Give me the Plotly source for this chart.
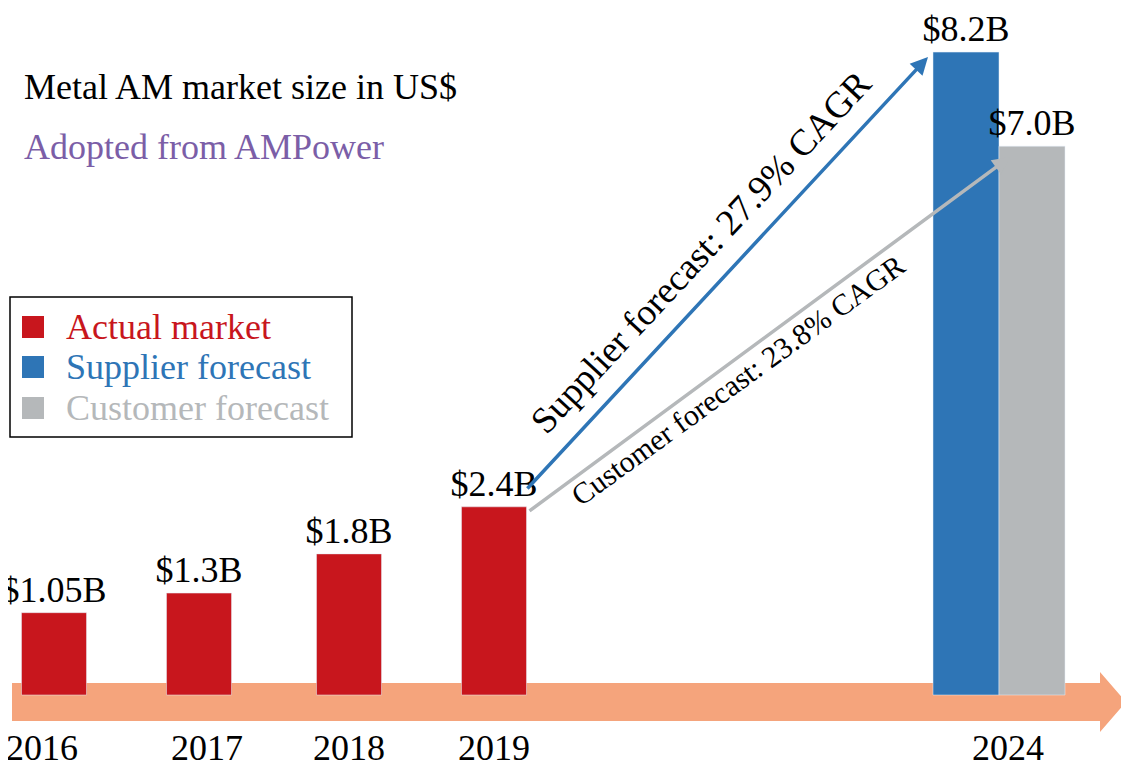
import plotly.graph_objects as go

# data
years = ["2016", "2017", "2018", "2019"]
actual = [1.05, 1.3, 1.8, 2.4]
actual_labels = ["$1.05B", "$1.3B", "$1.8B", "$2.4B"]
forecast_names = ["Supplier forecast", "Customer forecast"]
forecast = [8.2, 7.0]
forecast_labels = ["$8.2B", "$7.0B"]

# slot positions on a pixel-like x axis
actual_x = [54, 199, 349, 494]
forecast_x = [966, 1032]

RED = "#c8161d"
BLUE = "#2e75b6"
GRAY = "#b5b8ba"
ORANGE = "#f5a47c"
FONT = "Liberation Serif"
FS = 36

W, H = 1129, 771
OFF = 8  # page body margin
BASE = 695
PPU = 78.4  # pixels per $B


def yv(py):
    return (BASE - py) / PPU


fig = go.Figure()
fig.add_bar(x=actual_x, y=actual, width=65, marker_color=RED,
            text=actual_labels, textposition="outside", constraintext="none",
            textfont=dict(size=FS, color="black", family=FONT), cliponaxis=False)
fig.add_bar(x=forecast_x, y=forecast, width=66, marker_color=[BLUE, GRAY],
            text=forecast_labels, textposition="outside", constraintext="none",
            textfont=dict(size=FS, color="black", family=FONT), cliponaxis=False)

# baseline arrow
fig.add_shape(type="path", line_width=0, fillcolor=ORANGE, layer="below",
              path=f"M 12 {yv(683)} L 1100 {yv(683)} L 1100 {yv(672)} L 1126 {yv(702)} "
                   f"L 1100 {yv(732)} L 1100 {yv(721)} L 12 {yv(721)} Z")

# year labels
for x, t in zip([42, 207, 349, 494, 1008], years + ["2024"]):
    fig.add_annotation(x=x, y=yv(748), text=t, showarrow=False,
                       font=dict(size=FS, color="black", family=FONT))

# growth arrows
fig.add_annotation(x=928, y=yv(57), ax=526, ay=yv(490), axref="x", ayref="y",
                   xref="x", yref="y", showarrow=True, arrowhead=2, arrowsize=1,
                   arrowwidth=3.5, arrowcolor=BLUE, text="")
fig.add_annotation(x=1010, y=yv(157), ax=528, ay=yv(512), axref="x", ayref="y",
                   xref="x", yref="y", showarrow=True, arrowhead=2, arrowsize=1,
                   arrowwidth=3.5, arrowcolor=GRAY, text="")
fig.add_annotation(x=700, y=yv(252), text="Supplier forecast: 27.9% CAGR", showarrow=False,
                   textangle=-47, font=dict(size=37, color="black", family=FONT))
fig.add_annotation(x=737, y=yv(380), text="Customer forecast: 23.8% CAGR", showarrow=False,
                   textangle=-36, font=dict(size=30, color="black", family=FONT))

# titles
fig.add_annotation(x=22, y=yv(87), text="Metal AM market size in US$", showarrow=False,
                   xanchor="left", font=dict(size=FS, color="black", family=FONT))
fig.add_annotation(x=22, y=yv(147), text="Adopted from AMPower", showarrow=False,
                   xanchor="left", font=dict(size=FS, color="#7b5ea7", family=FONT))

# legend box
fig.add_shape(type="rect", x0=10, x1=352, y0=yv(297), y1=yv(437), line=dict(color="black", width=1.5))
leg = [("Actual market", RED, 327), ("Supplier forecast", BLUE, 367), ("Customer forecast", GRAY, 408)]
for name, c, py in leg:
    fig.add_shape(type="rect", x0=22, x1=44, y0=yv(py + 11), y1=yv(py - 11), fillcolor=c, line_width=0)
    fig.add_annotation(x=64, y=yv(py), text=name, showarrow=False, xanchor="left",
                       font=dict(size=FS, color=c, family=FONT))

fig.update_layout(width=W, height=H, margin=dict(l=0, r=0, t=0, b=0),
                  plot_bgcolor="white", paper_bgcolor="white", showlegend=False,
                  xaxis=dict(range=[OFF, W + OFF], visible=False),
                  yaxis=dict(range=[yv(H + OFF), yv(OFF)], visible=False))
fig.write_html("out.html")
